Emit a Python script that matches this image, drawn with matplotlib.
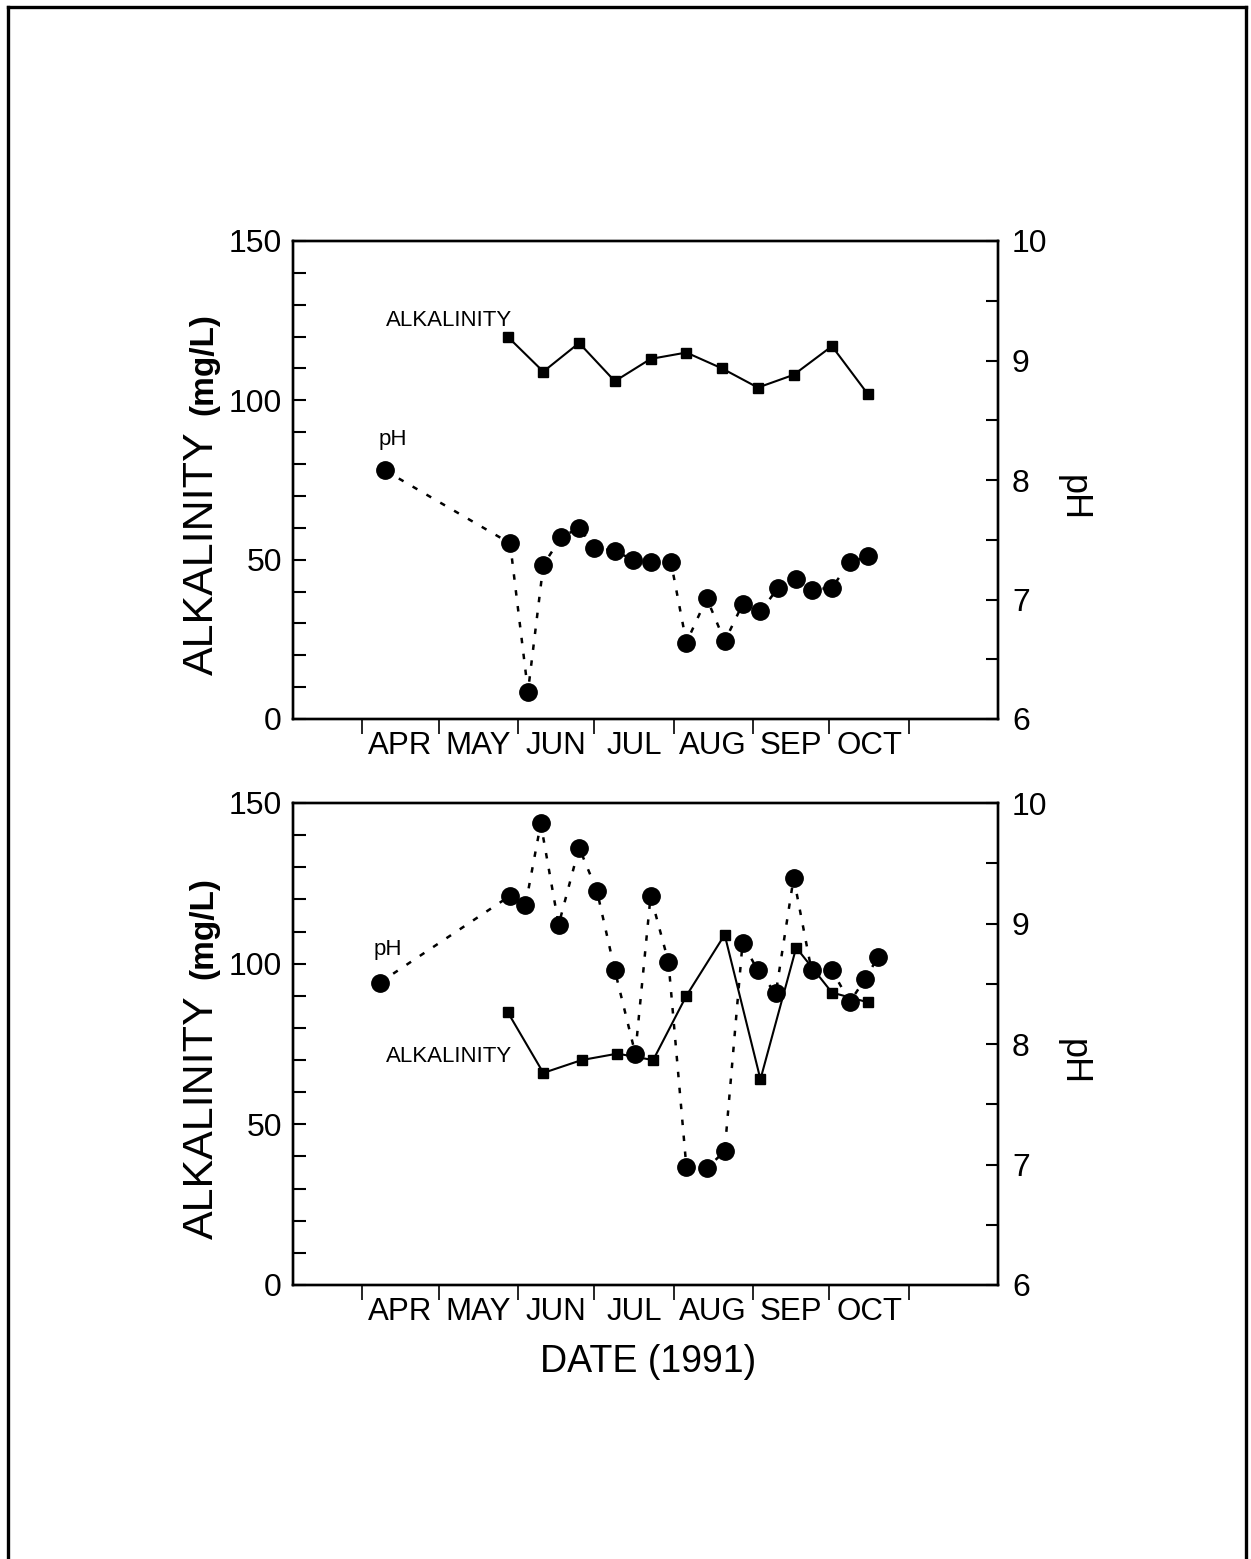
import matplotlib
matplotlib.use("Agg")
import matplotlib.pyplot as plt
from matplotlib.lines import Line2D
from matplotlib.ticker import MultipleLocator, FixedLocator, NullFormatter, FixedFormatter

plt.rcParams['font.family'] = ['Liberation Sans', 'DejaVu Sans']

# day-of-year values
month_starts = [91, 121, 152, 182, 213, 244, 274, 305]
month_labels = ['APR', 'MAY', 'JUN', 'JUL', 'AUG', 'SEP', 'OCT']

# upper panel
top_alk_day = [148, 162, 176, 190, 204, 218, 232, 246, 260, 275, 289]
top_alk = [120, 109, 118, 106, 113, 115, 110, 104, 108, 117, 102]
top_ph_day = [100, 149, 156, 162, 169, 176, 182, 190, 197, 204, 212, 218,
              226, 233, 240, 247, 254, 261, 267, 275, 282, 289]
top_ph = [8.08, 7.47, 6.23, 7.29, 7.52, 7.60, 7.43, 7.41, 7.33, 7.31, 7.31, 6.64,
          7.01, 6.65, 6.96, 6.90, 7.10, 7.17, 7.08, 7.10, 7.31, 7.36]

# lower panel
bot_alk_day = [148, 162, 177, 191, 205, 218, 233, 247, 261, 275, 289]
bot_alk = [85, 66, 70, 72, 70, 90, 109, 64, 105, 91, 88]
bot_ph_day = [98, 149, 155, 161, 168, 176, 183, 190, 198, 204, 211, 218,
              226, 233, 240, 246, 253, 260, 267, 275, 282, 288, 293]
bot_ph = [8.51, 9.23, 9.15, 9.83, 8.99, 9.63, 9.27, 8.61, 7.92, 9.23, 8.68, 6.98,
          6.97, 7.11, 8.84, 8.61, 8.42, 9.38, 8.61, 8.61, 8.35, 8.54, 8.72]

W, H = 1251, 1559
fig = plt.figure(figsize=(W / 100, H / 100), dpi=100)


def px(x, y):
    return x / W, 1 - y / H


def make_panel(top_px, bot_px, alk_day, alk, ph_day, ph, alk_lbl, ph_lbl):
    left, right = 293, 998
    ax = fig.add_axes([left / W, 1 - bot_px / H, (right - left) / W, (bot_px - top_px) / H])
    ax.plot(alk_day, alk, color='black', lw=1.5, marker='s', ms=7.5, zorder=3)
    ax.set_xlim(64, 340)
    ax.set_ylim(0, 150)
    ax.yaxis.set_major_locator(FixedLocator([0, 50, 100, 150]))
    ax.yaxis.set_minor_locator(MultipleLocator(10))
    ax.tick_params(axis='y', which='both', direction='in', length=9, width=1.5,
                   labelsize=23, pad=8)

    # month boundaries as ticks, names centred between them
    ax.xaxis.set_major_locator(FixedLocator(month_starts))
    ax.xaxis.set_major_formatter(NullFormatter())
    mids = [(a + b) / 2 for a, b in zip(month_starts[:-1], month_starts[1:])]
    ax.xaxis.set_minor_locator(FixedLocator(mids))
    ax.xaxis.set_minor_formatter(FixedFormatter(month_labels))
    ax.tick_params(axis='x', which='major', direction='out', length=11, width=1.2)
    ax.tick_params(axis='x', which='minor', length=0, labelsize=22.5, pad=9)

    ax2 = ax.twinx()
    ax2.plot(ph_day, ph, color='black', lw=1.8, ls=(0, (2.2, 4.2)),
             marker='o', ms=12.5, zorder=4)
    ax2.set_ylim(6, 10)
    ax2.yaxis.set_major_locator(MultipleLocator(1))
    ax2.yaxis.set_minor_locator(MultipleLocator(0.5))
    ax2.tick_params(axis='y', which='both', direction='in', length=9, width=1.5,
                    labelsize=23, pad=10)

    for a in (ax, ax2):
        for s in a.spines.values():
            s.set_linewidth(1.7)

    ax.text(alk_lbl[0], alk_lbl[1], 'ALKALINITY', transform=ax.transAxes,
            ha='center', va='center', fontsize=16)
    ax.text(ph_lbl[0], ph_lbl[1], 'pH', transform=ax.transAxes,
            ha='left', va='center', fontsize=16)

    # y labels
    mid = (top_px + bot_px) / 2
    fig.text(*px(202, mid + 73), 'ALKALINITY', rotation=90,
             ha='center', va='center', fontsize=31)
    fig.text(*px(204, mid - 116), '(mg/L)', rotation=90,
             ha='center', va='center', fontsize=24, fontweight='bold')
    fig.text(*px(1073, mid + 18), 'pH', rotation=270,
             ha='center', va='center', fontsize=26)
    return ax


make_panel(241, 719, top_alk_day, top_alk, top_ph_day, top_ph,
           (0.221, 0.833), (0.121, 0.584))
make_panel(803, 1285, bot_alk_day, bot_alk, bot_ph_day, bot_ph,
           (0.221, 0.475), (0.114, 0.697))

fig.text(*px(648, 1362), 'DATE (1991)', ha='center', va='center', fontsize=27)

# page frame
x0, y0 = px(8, 7)
x1, _ = px(1246, 7)
for xs, ys in [([x0, x0], [0, y0]), ([x0, x1], [y0, y0]), ([x1, x1], [y0, 0])]:
    fig.add_artist(Line2D(xs, ys, transform=fig.transFigure, color='black', lw=2.4))

fig.savefig('out.png', dpi=100)
